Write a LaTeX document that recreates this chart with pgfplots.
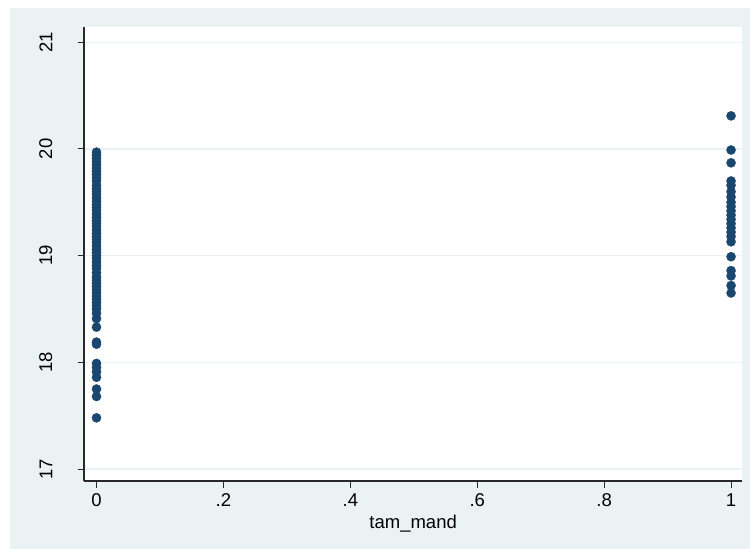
\documentclass[border=0pt]{standalone}
\usepackage{pgfplots}
\pgfplotsset{compat=1.18}
\usepackage{fontspec}
\setmainfont{Liberation Sans}
\definecolor{bgc}{RGB}{234,242,243}
\definecolor{stnavy}{RGB}{26,71,111}
\definecolor{axc}{RGB}{40,40,40}
\begin{document}
\begin{tikzpicture}
\fill[white] (-84bp,-68bp) rectangle (666bp,481bp);
\fill[bgc] (-74bp,-75bp) rectangle (675bp,473bp);
\fill[white] (0,0) rectangle (658.3bp,453.7bp);
\begin{axis}[
  at={(0,0)}, anchor=south west,
  scale only axis, width=658.3bp, height=453.7bp,
  xmin=-0.0197, xmax=1.0177, ymin=16.888, ymax=21.14,
  axis x line*=bottom, axis y line*=left,
  axis line style={draw=axc, line width=1.1bp},
  tick style={draw=axc, line width=1.1bp},
  tick align=outside, major tick length=6.5bp,
  xtick={0,0.2,0.4,0.6,0.8,1},
  xticklabels={0,.2,.4,.6,.8,1},
  ytick={17,18,19,20,21},
  minor tick num=0,
  /pgf/number format/assume math mode=true,
  tick label style={font=\fontsize{18.5bp}{21bp}\selectfont},
  xticklabel style={yshift=-3bp},
  yticklabel style={xshift=-25bp, rotate=90, anchor=south, inner sep=0pt},
  label style={font=\fontsize{18.5bp}{21bp}\selectfont},
  xlabel={tam\_mand},
  xlabel style={at={(axis description cs:0.5,0)}, anchor=north, inner sep=0pt, yshift=-34bp},
  ymajorgrids, grid style={draw=bgc, line width=1.3bp},
  clip=false,
]
\addplot[only marks, mark=*, mark size=4.6bp, mark options={fill=stnavy, draw=stnavy, line width=0.3bp}] coordinates {
(0,19.97) (0,19.94) (0,19.91) (0,19.88) (0,19.85) (0,19.82) (0,19.79) (0,19.76)
(0,19.73) (0,19.70) (0,19.66) (0,19.63) (0,19.60) (0,19.57) (0,19.54) (0,19.51)
(0,19.48) (0,19.45) (0,19.42) (0,19.39) (0,19.36) (0,19.33) (0,19.30) (0,19.27)
(0,19.24) (0,19.21) (0,19.18) (0,19.15) (0,19.12) (0,19.09) (0,19.06) (0,19.03)
(0,19.00) (0,18.97) (0,18.94) (0,18.91) (0,18.88) (0,18.84) (0,18.80) (0,18.77)
(0,18.74) (0,18.71) (0,18.68) (0,18.65) (0,18.62) (0,18.59) (0,18.56) (0,18.53)
(0,18.50) (0,18.46) (0,18.41) (0,18.33) (0,18.19) (0,18.17) (0,17.99) (0,17.95)
(0,17.91) (0,17.86) (0,17.75) (0,17.68) (0,17.48)
(1,20.31) (1,19.99) (1,19.87) (1,19.70) (1,19.66) (1,19.60) (1,19.55) (1,19.50)
(1,19.46) (1,19.42) (1,19.38) (1,19.34) (1,19.30) (1,19.26) (1,19.22) (1,19.18)
(1,19.13) (1,18.99) (1,18.86) (1,18.81) (1,18.72) (1,18.65)
};
\end{axis}
\pgfresetboundingbox
\path[use as bounding box] (-84bp,-68bp) rectangle (666bp,481bp);
\end{tikzpicture}
\end{document}
